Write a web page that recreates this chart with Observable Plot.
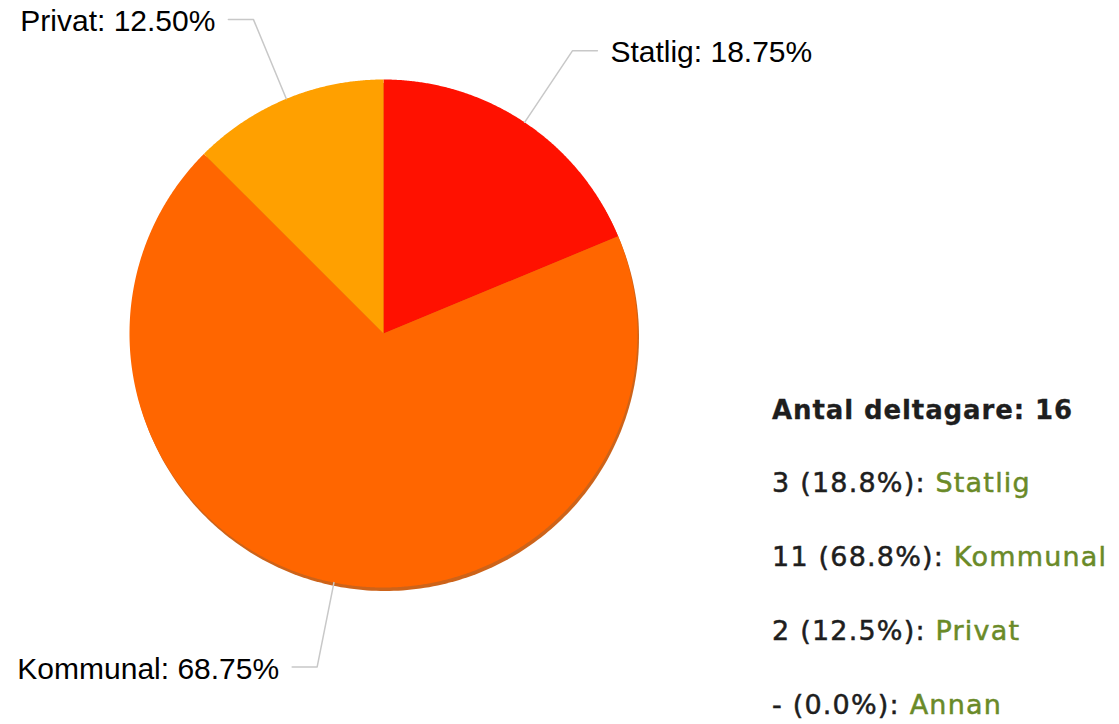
<!DOCTYPE html>
<html><head><meta charset="utf-8">
<script src="https://cdn.jsdelivr.net/npm/d3@7"></script>
<script src="https://cdn.jsdelivr.net/npm/@observablehq/plot@0.6"></script>
<style>
body{margin:0;background:#fff;}
#wrap{position:relative;width:1119px;height:724px;overflow:hidden;}
#chart{position:absolute;left:0;top:0;}
#legend{position:absolute;left:772px;top:374px;font-family:"DejaVu Sans",Verdana,sans-serif;color:#1e1e1e;}
#legend div{line-height:74px;height:74px;font-size:27px;letter-spacing:1.2px;white-space:nowrap;-webkit-text-stroke:0.5px currentColor}
#legend div.head{font-weight:bold;font-size:26px;letter-spacing:0.9px;height:72px;line-height:72px;-webkit-text-stroke:0.3px currentColor}
#legend .cat{color:#6a8a28}
</style></head><body><div id="wrap"><div id="chart"></div><div id="legend"></div></div>
<script>
const categories = ["Statlig", "Kommunal", "Privat", "Annan"];
const counts = [3, 11, 2, 0];
const colors = ["#ff1100", "#ff6600", "#ffa000", "#cccccc"];
const legendTitle = "Antal deltagare";

const W = 1119, H = 724, cx = 383, cy = 333, R = 254;
const total = d3.sum(counts);
const data = categories.map((c, i) => ({cat: c, count: counts[i]}));
const arcs = d3.pie().sort(null).value(d => d.count)(data);

// slice polygons (unit radius)
const slicePts = [];
for (const a of arcs) {
  if (a.data.count === 0) continue;
  slicePts.push({cat: a.data.cat, x: 0, y: 0});
  const n = Math.max(2, Math.ceil((a.endAngle - a.startAngle) / 0.005));
  for (let k = 0; k <= n; k++) {
    const t = a.startAngle + (a.endAngle - a.startAngle) * k / n;
    slicePts.push({cat: a.data.cat, x: Math.sin(t), y: -Math.cos(t)});
  }
  slicePts.push({cat: a.data.cat, x: 0, y: 0});
}
// shadow rim
const shadowPts = d3.range(0, 361, 1).map(d => {
  const t = d * Math.PI / 180;
  return {x: Math.sin(t) + 1.5 / R, y: -Math.cos(t) + 3.5 / R};
});

// leader lines + labels
const leaderPts = [], labels = [];
for (const a of arcs) {
  if (a.data.count === 0) continue;
  const m = (a.startAngle + a.endAngle) / 2;
  const sx = Math.sin(m), sy = -Math.cos(m);
  const side = sx >= 0 ? 1 : -1;
  const k = 340 / R;
  const p2x = sx * k + side * 25 / R;
  leaderPts.push({cat: a.data.cat, x: sx, y: sy});
  leaderPts.push({cat: a.data.cat, x: sx * k, y: sy * k});
  leaderPts.push({cat: a.data.cat, x: p2x, y: sy * k});
  labels.push({
    x: p2x + side * 13 / R, y: sy * k,
    anchor: side > 0 ? "start" : "end",
    text: `${a.data.cat}: ${(a.data.count / total * 100).toFixed(2)}%`
  });
}

const plot = Plot.plot({
  width: W, height: H,
  margin: 0,
  x: {domain: [-cx / R, (W - cx) / R], range: [0, W], axis: null},
  y: {domain: [-cy / R, (H - cy) / R], range: [0, H], axis: null},
  color: {domain: categories, range: colors},
  style: {background: "#fff"},
  marks: [
    Plot.line(shadowPts, {x: "x", y: "y", fill: "#c85200", stroke: "none", fillOpacity: 0.9}),
    Plot.line(slicePts, {x: "x", y: "y", z: "cat", fill: "cat", stroke: "none", curve: "linear"}),
    Plot.line(leaderPts, {x: "x", y: "y", z: "cat", stroke: "#c8c8c8", strokeWidth: 1.5}),
    Plot.text(labels.filter(d => d.anchor === "start"), {x: "x", y: "y", text: "text", textAnchor: "start",
      fontFamily: "Liberation Sans, Arial, sans-serif", fontSize: 30, fill: "#000", dy: 2}),
    Plot.text(labels.filter(d => d.anchor === "end"), {x: "x", y: "y", text: "text", textAnchor: "end",
      fontFamily: "Liberation Sans, Arial, sans-serif", fontSize: 30, fill: "#000", dy: 2})
  ]
});
document.getElementById("chart").appendChild(plot);

const lg = document.getElementById("legend");
const head = document.createElement("div");
head.className = "head";
head.textContent = `${legendTitle}: ${total}`;
lg.appendChild(head);
data.forEach(d => {
  const row = document.createElement("div");
  const num = document.createElement("span");
  num.textContent = `${d.count === 0 ? "-" : d.count} (${(d.count / total * 100).toFixed(1)}%): `;
  const cat = document.createElement("span");
  cat.className = "cat";
  cat.textContent = d.cat;
  row.appendChild(num); row.appendChild(cat);
  lg.appendChild(row);
});
</script></body></html>
